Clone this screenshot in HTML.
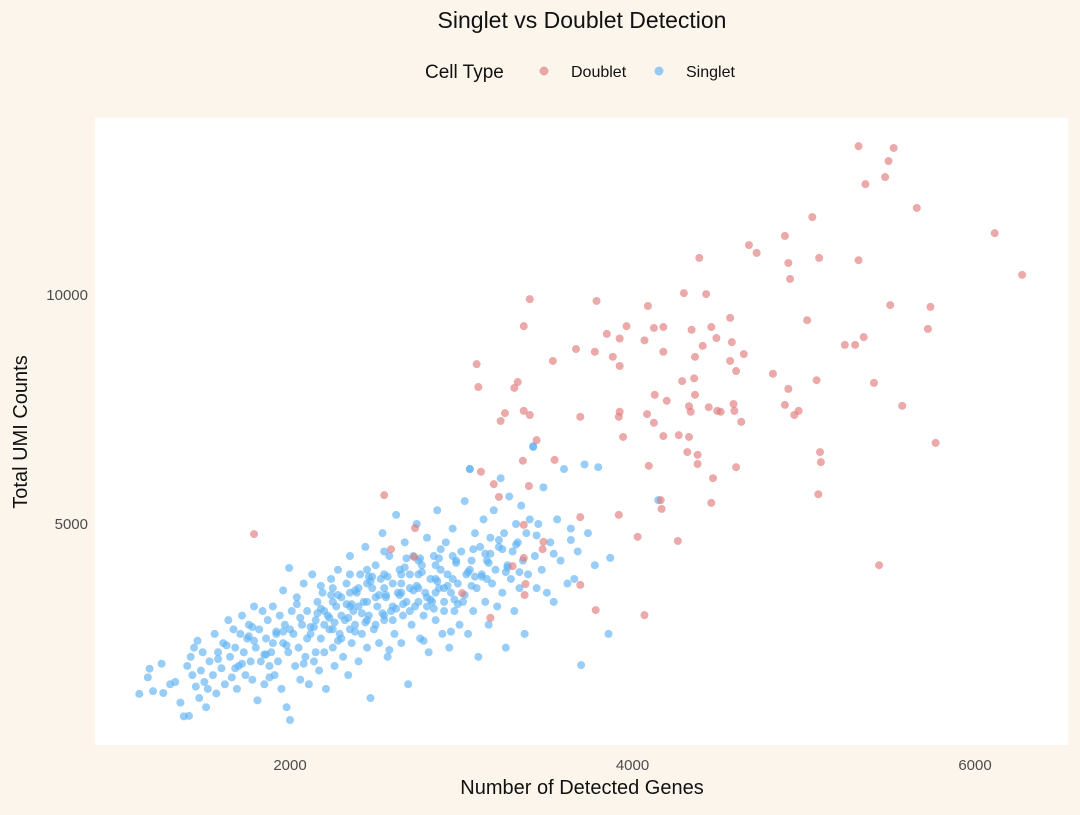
<!DOCTYPE html>
<html><head><meta charset="utf-8"><style>
body{margin:0;background:#fcf5ec;font-family:"Liberation Sans",sans-serif}
svg text{font-family:"Liberation Sans",sans-serif}
</style></head><body>
<svg id="chart" width="1080" height="810">
<rect x="0" y="0" width="1080" height="810" fill="#fcf5ec"/>
<rect x="95" y="118" width="973" height="627" fill="#ffffff"/>
<text x="582" y="28" font-size="23" text-anchor="middle" fill="#111">Singlet vs Doublet Detection</text>
<g>
<text x="425" y="78" font-size="19" fill="#111">Cell Type</text>
<circle cx="544" cy="71" r="4.5" fill="#e07b7b" fill-opacity="0.65"/>
<text x="571" y="77" font-size="16" fill="#111">Doublet</text>
<circle cx="659" cy="71" r="4.5" fill="#5fb2f2" fill-opacity="0.65"/>
<text x="686" y="77" font-size="16" fill="#111">Singlet</text>
</g>
<g id="axes"></g>
<g id="marks"></g>
<text x="582" y="794" font-size="20" text-anchor="middle" fill="#111">Number of Detected Genes</text>
<text transform="translate(27,432) rotate(-90)" font-size="20" text-anchor="middle" fill="#111">Total UMI Counts</text>
</svg>
<script>
const xTicks=[2000,4000,6000];
const yTicks=[5000,10000];
const doubletGenes=[5320,5525,5495,5475,5360,5660,6275,6115,5050,4890,4680,4725,5090,5320,4910,4920,4390,4300,4430,3400,3790,4090,5505,5740,3365,3850,3965,4125,4180,4345,4460,4570,5020,5725,5350,5300,5240,4070,3925,4180,4410,4490,4580,4650,3670,3780,3885,3535,4365,4570,4605,3925,3090,4820,5075,5410,3330,3310,3100,4290,4360,4130,4200,4910,4365,4445,4590,4595,4330,4340,4495,4515,4890,4970,4945,5575,3365,3400,3255,3230,3695,4085,3925,3920,4125,4635,4180,4270,4330,3945,3440,5770,4320,4380,5095,5100,4095,4605,4380,3545,3360,3115,4470,3190,3395,4165,4170,5085,4460,3220,2550,3920,3695,4030,4265,1790,3480,3475,5440,2590,3365,3300,3365,2725,3005,3375,3695,3785,4070,3170,3370,2730];
const doubletUMI=[13250,13210,12925,12575,12420,11900,10440,11350,11700,11290,11090,10920,10810,10760,10700,10350,10810,10040,10020,9910,9870,9760,9780,9740,9320,9150,9320,9280,9300,9240,9300,9500,9450,9260,9080,8910,8910,9010,9050,8760,8890,9060,8970,8710,8820,8760,8650,8560,8650,8560,8340,8450,8490,8280,8140,8080,8100,7970,7990,8120,8180,7820,7690,7950,7820,7550,7620,7470,7570,7450,7470,7450,7600,7470,7380,7580,7470,7380,7420,7250,7340,7400,7450,7340,7210,7230,6920,6940,6900,6900,6830,6770,6570,6510,6570,6350,6270,6240,6310,6400,6380,6140,6000,5870,5830,5520,5330,5650,5460,5590,5630,5200,5150,4720,4630,4780,4610,4450,4100,4450,4980,4080,4260,4280,3490,3690,3670,3120,3010,2950,3450,4910];
const singletGenes=[1120,1170,1180,1200,1250,1260,1300,1330,1360,1380,1400,1410,1420,1430,1440,1450,1460,1470,1480,1490,1500,1510,1520,1530,1550,1560,1570,1580,1600,1610,1620,1640,1650,1660,1670,1680,1690,1700,1710,1720,1730,1740,1750,1760,1770,1780,1790,1800,1810,1820,1830,1840,1850,1860,1870,1880,1890,1900,1910,1920,1930,1940,1950,1960,1970,1980,1990,2000,1995,2010,2020,2030,2040,2050,2060,2070,2080,2090,2100,2110,2120,2130,2140,2150,2160,2170,2180,2190,2200,2210,2220,2230,2240,2250,2260,2270,2280,2290,2300,2310,2320,2330,2340,2350,2360,2370,2380,2390,2400,2410,2420,2430,2440,2450,2460,2470,2480,2490,2500,2510,2520,2530,2540,2550,2560,2570,2580,2590,2600,2610,2620,2630,2640,2650,2660,2670,2680,2690,2700,2710,2720,2730,2740,2750,2760,2770,2780,2790,2800,2810,2820,2830,2840,2850,2860,2870,2880,2890,2900,2910,2920,2930,2940,2950,2960,2970,2980,2990,3000,3010,3020,3030,3040,3050,3060,3070,3080,3090,3100,3110,3120,3130,3140,3150,3160,3170,3180,3190,3200,3210,3220,3230,3240,3250,3260,3270,3280,3290,3300,3310,3320,3330,3340,3350,3360,3370,3380,3390,3400,3420,3430,3440,3450,3470,3480,3500,3520,3540,3560,3580,3600,3620,3640,3660,3680,3700,3720,3740,3780,3860,3870,4150,3800,3050,3420,2250,2300,2350,2400,2450,2500,2550,2600,2650,2700,2750,2800,2850,2900,2350,2450,2550,2650,2750,2850,2950,2200,2100,2000,1900,2150,2250,2350,2450,2550,2650,2750,2850,2400,2600,2700,2500,2300,2200,2950,3050,3150,2800,2900,2450,2550,2350,2250,
1580,1630,1720,1790,1850,1920,1980,2060,2120,2180,2230,2280,2330,2380,2420,2470,2520,2570,2620,2670,2720,2770,2820,2870,2920,2970,3020,3070,3120,3170,3220,3270,3320,2160,2260,2360,2460,2560,2660,2760,2860,2960,3060,3160,3260,1760,1860,1960,2040,2140,2240,2340,2440,2540,2640,2740,2840,2940,3040,3140,3240,3340,3440,3540,3640,1680,1780,1880,1960,2080,2180,2280,2380,2480,2580,2680,2780,2880,2980,3080];
const singletUMI=[1290,1650,1840,1350,1950,1310,1500,1550,1100,800,1900,810,2100,1700,2300,1450,2450,1200,1800,2200,1550,1000,1400,2000,1700,2600,1300,2200,1850,2400,1500,2900,2100,1650,2700,2300,1400,1900,2600,3000,2200,1700,2500,2800,2000,1600,3200,2300,1150,2700,2000,3100,1500,2500,2900,1900,2200,3200,1700,2600,2000,3000,1400,2400,2800,1000,2200,720,4040,3100,2600,1900,3400,2300,1600,2800,3700,2100,3100,1500,2600,3900,2000,2900,3300,1800,2500,3500,2200,1400,3000,2700,3800,2300,1900,3200,4000,2600,3400,2100,2900,3700,1700,4300,2400,3100,2800,3500,2000,3900,2600,3300,4500,2300,3000,1200,3600,2700,4100,3200,2400,3800,4800,2900,3400,2100,4300,3100,3700,2600,5200,3500,4000,2400,3000,4600,3300,1500,3900,2800,4300,3200,5000,3600,2500,4100,3000,3500,4700,2200,3800,3300,4300,2900,5300,3600,4000,2600,3300,4600,3900,2300,3500,4900,3100,4200,3700,2800,4400,3300,5500,3900,2600,6200,4200,3100,4800,3600,2100,4500,3900,5100,3300,4200,2800,4700,3700,5300,4000,3200,4500,6000,3500,4800,2300,4100,5600,3800,4400,3100,5000,4600,3600,5400,4200,2600,4800,3900,5100,6700,4300,3600,5000,4000,5800,3500,4600,3300,5100,4200,6200,3700,4900,3800,4400,1920,6300,4800,4100,2600,4260,5520,6240,6200,6680,3300,3000,3500,3200,3700,3400,3600,3200,3500,3600,3300,3400,3800,3600,2700,2900,3000,3900,4200,3500,3800,2800,2500,2700,2400,2200,2700,3200,3300,3900,3700,3900,4100,3600,2900,3100,2800,2500,3100,4300,4000,3800,3200,3100,4000,4400,3900,3600,
2050,2350,1950,2450,2150,2650,2350,2950,2750,3150,2950,3450,3250,3550,3050,3750,3450,3850,3150,4050,3550,3950,3350,4250,3650,4150,3450,4450,3850,4350,4650,4050,4550,3050,2850,3250,3850,3450,3250,4250,3750,3350,3650,4150,3950,2550,2150,2650,3250,2750,3450,2950,2850,3050,3450,3650,3150,2650,3950,4350,4450,3950,4750,4350,4650,1850,2750,1650,3550,1950,3650,2450,2650,3850,2250,4250,2450,4450,3250,3850];

const NS='http://www.w3.org/2000/svg';
function xScale(v){return 290+(v-2000)*0.17125;}
function yScale(v){return 753-v*0.0458;}
const axes=document.getElementById('axes');
const marks=document.getElementById('marks');
xTicks.forEach(t=>{
  const tx=document.createElementNS(NS,'text');
  tx.setAttribute('x',xScale(t));tx.setAttribute('y',770);
  tx.setAttribute('font-size','15');tx.setAttribute('text-anchor','middle');tx.setAttribute('fill','#4d4d4d');
  tx.textContent=t;
  
  
  axes.appendChild(tx);
});
yTicks.forEach(t=>{
  const tx=document.createElementNS(NS,'text');
  tx.setAttribute('x',88);tx.setAttribute('y',yScale(t)+5);
  tx.setAttribute('font-size','15');tx.setAttribute('text-anchor','end');tx.setAttribute('fill','#4d4d4d');
  tx.textContent=t;
  
  
  axes.appendChild(tx);
});
function draw(gx,gy,color,name){
  for(let i=0;i<gx.length;i++){
    const c=document.createElementNS(NS,'circle');
    c.setAttribute('cx',xScale(gx[i]));c.setAttribute('cy',yScale(gy[i]));
    c.setAttribute('r','4');c.setAttribute('fill',color);c.setAttribute('fill-opacity','0.65');
    
    
    marks.appendChild(c);
  }
}
draw(singletGenes,singletUMI,'#5fb2f2','singlet-point');
draw(doubletGenes,doubletUMI,'#e07b7b','doublet-point');
</script>
</body></html>
